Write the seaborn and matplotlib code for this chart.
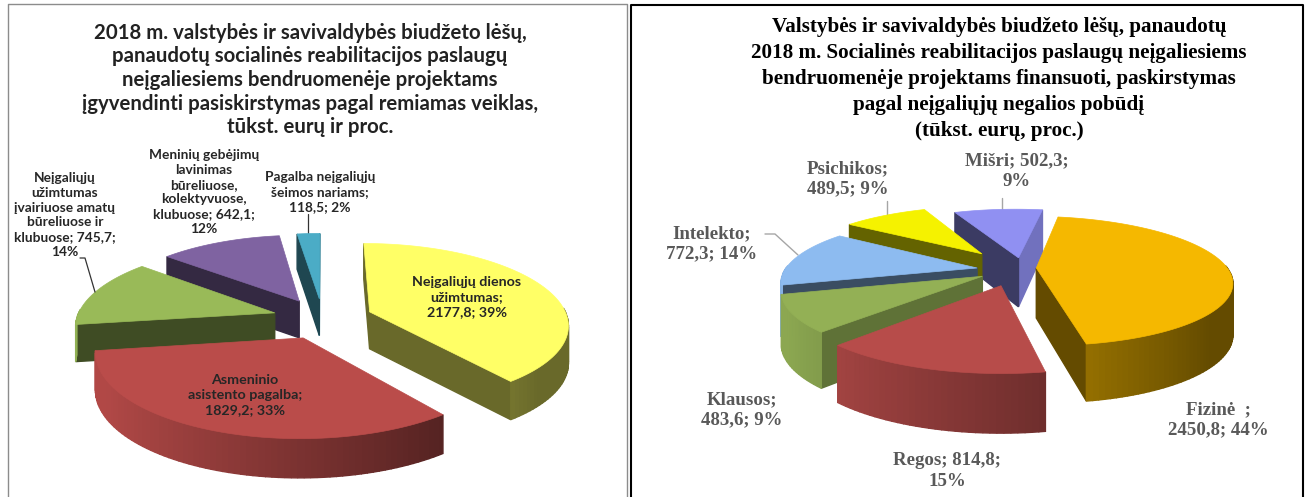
import numpy as np
import matplotlib
matplotlib.use("Agg")
import matplotlib.pyplot as plt
from matplotlib.colors import to_rgb
import seaborn as sns

sns.set_theme(style="white")
plt.rcParams['font.family'] = ['Liberation Sans', 'DejaVu Sans']

SERIF = ['Liberation Serif', 'DejaVu Serif']
SANS = ['Lato', 'DejaVu Sans']

left_categories = ["Neįgaliųjų dienos užimtumas", "Asmeninio asistento pagalba",
                   "Neįgaliųjų užimtumas įvairiuose amatų būreliuose ir klubuose",
                   "Meninių gebėjimų lavinimas būreliuose, kolektyvuose, klubuose",
                   "Pagalba neįgaliųjų šeimos nariams"]
left_values = [2177.8, 1829.2, 745.7, 642.1, 118.5]
left_colors = sns.color_palette(["#FFFF66", "#BA4C4A", "#99BA58", "#7F63A1", "#4BACC6"])

right_categories = ["Fizinė", "Regos", "Klausos", "Intelekto", "Psichikos", "Mišri"]
right_values = [2450.8, 814.8, 483.6, 772.3, 489.5, 502.3]
right_colors = sns.color_palette(["#F5B800", "#B74C4A", "#93B055", "#8DBBF0", "#F5F200", "#9090F2"])

W, H = 1305, 497
fig = plt.figure(figsize=(W / 100, H / 100), dpi=100)
ax = fig.add_axes([0, 0, 1, 1])
ax.set_xlim(0, W)
ax.set_ylim(H, 0)
ax.axis("off")


def pie3d(values, colors, start, center, rx, ry, k, depth, dpow, offsets, order):
    """Exploded perspective pie: the values set the wedge angles."""
    cx, cy = center
    fractions = np.asarray(values, float) / np.sum(values)
    edges = start + np.concatenate([[0], np.cumsum(fractions)]) * 360

    def project(u, v):
        s = 1 / (1 + k * v)
        return cx + rx * u * s, cy - ry * v * s, depth * s ** dpow

    for i in order:
        a0, a1 = np.radians(edges[i]), np.radians(edges[i + 1])
        col = np.array(to_rgb(colors[i]))
        ou, ov = offsets[i]
        th = np.linspace(a0, a1, max(int(np.degrees(a1 - a0) / 1.5), 4))
        us = np.concatenate([[ou], ou + np.sin(th)])
        vs = np.concatenate([[ov], ov + np.cos(th)])
        xs, ys, ds = project(us, vs)

        quads = []
        n = len(xs)
        for j in range(n):
            m = (j + 1) % n
            mu, mv = (us[j] + us[m]) / 2, (vs[j] + vs[m]) / 2
            if j == 0 or j == n - 1:       # radial cut faces
                eu, ev = us[m] - us[j], vs[m] - vs[j]
                nu, nv = -ev, eu           # outward normal for clockwise outline
                nn = np.hypot(nu, nv)
                nu, nv = nu / nn, nv / nn
                shade = 0.41 + max(0.0, nu - 0.3) * 0.55
            else:                          # curved rim
                nu, nv = mu - ou, mv - ov
                shade = float(np.clip(0.66 - 0.33 * nu, 0.41, 0.95))
            if nv < 0.05:                  # only faces turned towards the viewer
                quads.append((mv, j, m, shade))
        for _, j, m, shade in sorted(quads, key=lambda q: -q[0]):
            fc = tuple(col * shade)
            ax.fill([xs[j], xs[m], xs[m], xs[j]],
                    [ys[j], ys[m], ys[m] + ds[m], ys[j] + ds[j]],
                    facecolor=fc, edgecolor=fc, lw=1.0, zorder=2)
        ax.fill(xs, ys, color=tuple(col), lw=0.5, zorder=2)


# panel frames
ax.plot([8, 8, 627, 627], [497, 4, 4, 497], color="#8c8c8c", lw=1)
ax.plot([631, 631, 1303, 1303], [497, 5, 5, 497], color="black", lw=1.5)

# left pie
lfrac = np.array(left_values) / np.sum(left_values)
lmid = np.radians(np.cumsum(lfrac) * 360 - lfrac * 180)
le = 0.254
pie3d(left_values, left_colors, 0, (322.6, 318.4), 198, 80, 0.144, 37, 0.3,
      [(le * np.sin(t), le * np.cos(t)) for t in lmid], [4, 3, 2, 0, 1])

# right pie: start 10 deg past the top, slices pulled out individually
pie3d(right_values, right_colors, 10, (1000, 268), 191, 62, 0.20, 50, 0.6,
      [(0.19, 0.00), (0.005, -0.27), (-0.09, -0.13), (-0.12, 0.00), (-0.10, 0.24), (0.10, 0.17)],
      [5, 4, 3, 2, 1, 0])

# titles
ax.text(310, 80, "2018 m. valstybės ir savivaldybės biudžeto lėšų,\n"
        "panaudotų socialinės reabilitacijos paslaugų\n"
        "neįgaliesiems bendruomenėje projektams\n"
        "įgyvendinti pasiskirstymas pagal remiamas veiklas,\n"
        "tūkst. eurų ir proc.", ha="center", va="center", fontsize=14.7,
        fontweight="bold", family=SANS, color="#222222", linespacing=1.22, zorder=5)
ax.text(999, 79, "Valstybės ir savivaldybės biudžeto lėšų, panaudotų\n"
        "2018 m. Socialinės reabilitacijos paslaugų neįgaliesiems\n"
        "bendruomenėje projektams finansuoti, paskirstymas\n"
        "pagal neįgaliųjų negalios pobūdį\n"
        "(tūkst. eurų, proc.)", ha="center", va="center", fontsize=15.2,
        fontweight="bold", family=SERIF, color="black", linespacing=1.41, zorder=5)

# left labels
lab = dict(ha="center", va="center", fontsize=9.9, fontweight="bold", family=SANS,
           color="#262626", linespacing=1.27, zorder=5)
inner = dict(lab, fontsize=10.3)
ax.text(467, 297, "Neįgaliųjų dienos\nužimtumas;\n2177,8; 39%", **inner)
ax.text(245, 395, "Asmeninio\nasistento pagalba;\n1829,2; 33%", **inner)
ax.text(65, 215, "Neįgaliųjų\nužimtumas\nįvairiuose amatų\nbūreliuose ir\nklubuose; 745,7;\n14%", **lab)
ax.text(204, 192, "Meninių gebėjimų\nlavinimas\nbūreliuose,\nkolektyvuose,\nklubuose; 642,1;\n12%", **lab)
ax.text(320, 192, "Pagalba neįgaliųjų\nšeimos nariams;\n118,5; 2%", **lab)
ax.plot([80, 85, 95], [258, 258, 292], color="#333333", lw=0.9, zorder=3)
ax.plot([308, 308], [214, 233], color="#333333", lw=0.9, zorder=1)

# right labels
rlab = dict(ha="center", va="center", fontsize=13.6, fontweight="bold", family=SERIF,
            color="#595959", linespacing=1.25, zorder=5)
ax.text(848, 179, "Psichikos;\n489,5; 9%", **rlab)
ax.text(1017, 171, "Mišri; 502,3;\n9%", **rlab)
ax.text(712, 244, "Intelekto;\n772,3; 14%", **rlab)
ax.text(742, 410, "Klausos;\n483,6; 9%", **rlab)
ax.text(1218, 420, "Fizinė  ;\n2450,8; 44%", **rlab)
ax.text(947, 471, "Regos; 814,8;\n15%", **rlab)
ax.plot([765, 775, 798], [234, 234, 255], color="#a6a6a6", lw=1, zorder=1)
ax.plot([887, 887], [201, 217], color="#a6a6a6", lw=1, zorder=1)
ax.plot([1002, 1002], [198, 211], color="#a6a6a6", lw=1, zorder=1)

fig.savefig("out.png", dpi=100)
